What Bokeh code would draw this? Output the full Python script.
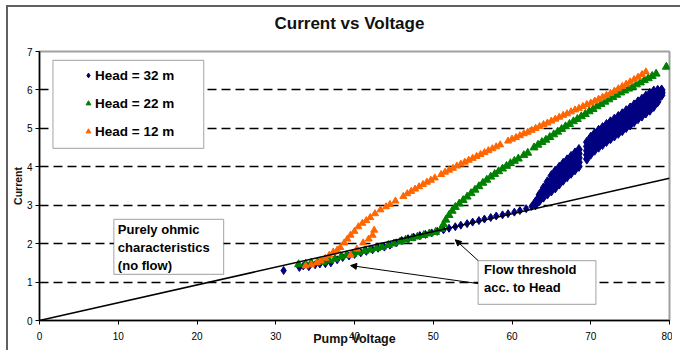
import math
from bokeh.plotting import figure
from bokeh.models import (Range1d, FixedTicker, BoxAnnotation, Arrow, Label,
                          NormalHead, Legend, LegendItem, GlobalInlineStyleSheet)
from bokeh.embed import file_html
from bokeh.resources import INLINE

# ---------------- data ----------------
x_ticks = [0, 10, 20, 30, 40, 50, 60, 70, 80]
y_ticks = [0, 1, 2, 3, 4, 5, 6, 7]

# ohmic characteristic line
ohm_x = [0, 80]
ohm_y = [0, 3.7]

# Head = 32 m : low (near-ohmic) part
blue_x = [31.0, 33.0, 33.5, 34.2, 35.0, 35.6, 36.3, 37.0, 37.8, 38.5, 39.3, 40.0,
          40.8, 41.5, 42.3, 43.0, 43.8, 44.5, 45.3, 46.0, 46.8, 47.5, 48.3, 49.0,
          49.8, 50.5, 51.3, 52.0, 52.8, 53.5, 54.3, 55.0, 55.8, 56.5, 57.3, 58.0,
          58.8, 59.5, 60.3, 61.0, 61.8, 62.5]
blue_y = [1.30, 1.38, 1.42, 1.40, 1.45, 1.47, 1.48, 1.50, 1.58, 1.64, 1.68, 1.72,
          1.76, 1.80, 1.84, 1.88, 1.91, 1.96, 2.02, 2.08, 2.13, 2.17, 2.21, 2.24,
          2.28, 2.32, 2.36, 2.40, 2.44, 2.48, 2.52, 2.56, 2.60, 2.64, 2.68, 2.72,
          2.75, 2.78, 2.82, 2.86, 2.91, 2.97]
# Head = 32 m : steep (flowing) part, a thick band read as five rows
band_x = [63.0, 63.5, 64.0, 64.5, 65.0, 65.5, 66.0, 66.5, 67.0, 67.5, 68.0, 68.5,
          69.5, 70.0, 70.5, 71.0, 71.5, 72.0, 72.5, 73.0, 73.5, 74.0, 74.5, 75.0,
          75.5, 76.0, 76.5, 77.0, 77.5, 78.0, 78.5, 79.0]
band_lo = [3.01, 3.12, 3.21, 3.29, 3.37, 3.45, 3.55, 3.65, 3.74, 3.83, 3.92, 4.01,
           4.20, 4.33, 4.43, 4.51, 4.58, 4.66, 4.73, 4.80, 4.87, 4.94, 5.02, 5.09,
           5.17, 5.25, 5.32, 5.40, 5.47, 5.57, 5.69, 5.86]
band_q1 = [3.03, 3.16, 3.27, 3.37, 3.47, 3.56, 3.66, 3.76, 3.85, 3.94, 4.03, 4.12,
           4.31, 4.44, 4.54, 4.62, 4.69, 4.77, 4.84, 4.91, 4.98, 5.05, 5.13, 5.20,
           5.28, 5.36, 5.43, 5.51, 5.58, 5.67, 5.77, 5.90]
band_mid = [3.05, 3.20, 3.33, 3.45, 3.57, 3.67, 3.77, 3.87, 3.96, 4.05, 4.14, 4.23,
            4.42, 4.55, 4.65, 4.73, 4.80, 4.88, 4.95, 5.02, 5.09, 5.16, 5.24, 5.31,
            5.39, 5.47, 5.54, 5.62, 5.69, 5.77, 5.84, 5.93]
band_q3 = [3.07, 3.24, 3.39, 3.53, 3.67, 3.78, 3.88, 3.98, 4.07, 4.16, 4.25, 4.34,
           4.53, 4.66, 4.76, 4.84, 4.91, 4.99, 5.06, 5.13, 5.20, 5.27, 5.35, 5.42,
           5.50, 5.58, 5.65, 5.73, 5.80, 5.87, 5.92, 5.97]
band_hi = [3.09, 3.28, 3.45, 3.61, 3.77, 3.89, 3.99, 4.09, 4.18, 4.27, 4.36, 4.45,
           4.64, 4.77, 4.87, 4.95, 5.02, 5.10, 5.17, 5.24, 5.31, 5.38, 5.46, 5.53,
           5.61, 5.69, 5.76, 5.84, 5.91, 5.97, 5.99, 6.00]

# Head = 22 m
green_x = [32.9, 33.8, 34.5, 35.3, 36.0, 36.8, 37.5, 38.3, 39.0, 39.8, 40.5, 41.3,
           42.0, 42.8, 43.5, 44.3, 45.0, 45.8, 46.5, 47.3, 48.0, 48.8, 49.5, 50.3,
           51.0, 51.3, 51.6, 52.0, 52.4, 52.8, 53.3, 53.8, 54.3, 54.8, 55.3, 55.8,
           56.3, 56.8, 57.3, 57.8, 58.3, 58.8, 59.3, 59.8, 60.3, 60.8, 61.5, 62.0,
           62.8, 63.3, 63.8, 64.3, 64.8, 65.3, 65.8, 66.3, 66.8, 67.3, 67.8, 68.3,
           68.8, 69.3, 69.8, 70.3, 70.8, 71.3, 71.8, 72.3, 72.8, 73.3, 73.8, 74.3,
           74.8, 75.3, 75.8, 76.3, 76.8, 77.3, 77.8, 78.3, 79.6]
green_y = [1.46, 1.47, 1.50, 1.52, 1.52, 1.56, 1.60, 1.66, 1.70, 1.73, 1.77, 1.81,
           1.84, 1.88, 1.91, 1.96, 2.00, 2.05, 2.10, 2.14, 2.18, 2.22, 2.26, 2.30,
           2.38, 2.50, 2.62, 2.74, 2.85, 2.95, 3.04, 3.13, 3.22, 3.31, 3.40, 3.49,
           3.58, 3.66, 3.74, 3.81, 3.88, 3.95, 4.02, 4.09, 4.15, 4.21, 4.30, 4.36,
           4.50, 4.57, 4.64, 4.70, 4.77, 4.84, 4.91, 4.98, 5.05, 5.11, 5.18, 5.24,
           5.31, 5.37, 5.44, 5.50, 5.57, 5.63, 5.69, 5.75, 5.81, 5.87, 5.93, 5.98,
           6.03, 6.08, 6.14, 6.19, 6.25, 6.30, 6.36, 6.42, 6.60]

# Head = 12 m
orange_x = [33.8, 34.5, 35.2, 35.7, 36.3, 36.8, 37.3, 37.8, 38.2, 38.7, 39.1, 39.5,
            40.0, 40.5, 41.0, 41.5, 42.0, 42.6, 43.3, 44.0, 44.5, 45.2, 46.2, 46.7,
            47.2, 47.7, 48.2, 48.7, 49.2, 49.7, 50.2, 51.0, 51.5, 52.0, 52.5, 53.0,
            53.5, 54.0, 54.5, 55.0, 55.5, 56.0, 56.5, 57.0, 57.5, 58.0, 58.5, 59.5,
            60.0, 60.5, 61.0, 61.5, 62.0, 62.5, 63.0, 63.5, 64.0, 64.5, 65.0, 65.5,
            66.0, 66.5, 67.0, 67.5, 68.0, 68.5, 69.0, 69.5, 70.0, 70.5, 71.0, 71.5,
            72.0, 72.5, 73.0, 73.5, 74.0, 74.5, 75.0, 75.5, 76.0, 76.5, 77.0,
            39.5, 40.3, 41.1, 41.8, 42.3, 42.5]
orange_y = [1.42, 1.45, 1.50, 1.55, 1.62, 1.70, 1.78, 1.83, 1.90, 2.02, 2.12, 2.22,
            2.32, 2.44, 2.53, 2.60, 2.68, 2.78, 2.88, 2.96, 3.02, 3.11, 3.23, 3.30,
            3.36, 3.42, 3.48, 3.54, 3.60, 3.65, 3.71, 3.80, 3.86, 3.91, 3.96, 4.02,
            4.07, 4.12, 4.17, 4.22, 4.27, 4.32, 4.37, 4.42, 4.47, 4.52, 4.57, 4.67,
            4.72, 4.76, 4.81, 4.86, 4.90, 4.95, 5.00, 5.05, 5.10, 5.14, 5.19, 5.24,
            5.29, 5.34, 5.38, 5.43, 5.48, 5.52, 5.57, 5.62, 5.66, 5.71, 5.76, 5.81,
            5.86, 5.91, 5.97, 6.03, 6.09, 6.15, 6.21, 6.27, 6.33, 6.40, 6.47,
            1.70, 1.86, 2.02, 2.12, 2.22, 2.35]

series_labels = ["Head = 32 m", "Head = 22 m", "Head = 12 m"]
ohmic_text = ["Purely ohmic", "characteristics", "(no flow)"]
threshold_text = ["Flow threshold", "acc. to Head"]

# ---------------- styling ----------------
FONT = "Liberation Sans"
BLUE = "#000080"
GREEN = "#008000"
ORANGE = "#FF6600"

p = figure(frame_width=630, frame_height=269,
           x_range=Range1d(0, 80), y_range=Range1d(0, 7),
           output_backend="svg", toolbar_location=None,
           min_border_left=33, min_border_top=58,
           min_border_right=3, min_border_bottom=22,
           background_fill_color="white", border_fill_color="white",
           title="Current vs Voltage")
p.styles = {"margin-top": "-8px", "margin-left": "6px"}
# outer chart-area border (top and left edges visible in the picture)
p.stylesheets = [GlobalInlineStyleSheet(css=(
    "body{overflow:hidden;}"
    "body::after{content:'';position:fixed;left:6px;top:5px;width:100vw;"
    "height:100vh;border-top:2px solid #606060;border-left:2px solid #606060;"
    "pointer-events:none;z-index:1000;}"))]

p.title.text_font = FONT
p.title.text_font_size = "17px"
p.title.text_font_style = "bold"
p.title.text_color = "#111111"
p.title.align = "left"
p.title.offset = 235
p.title.vertical_align = "bottom"
p.title.standoff = 38

p.xaxis.ticker = FixedTicker(ticks=x_ticks)
p.yaxis.ticker = FixedTicker(ticks=y_ticks)
for ax in (p.xaxis, p.yaxis):
    ax.axis_line_color = "black"
    ax.axis_line_width = 1.5
    ax.major_tick_line_color = "black"
    ax.major_tick_out = 4
    ax.major_tick_in = 0
    ax.minor_tick_line_color = None
    ax.major_label_text_font = FONT
    ax.major_label_text_font_size = "10px"
    ax.major_label_text_color = "black"
    ax.axis_label_text_font = FONT
    ax.axis_label_text_font_style = "bold"
    ax.axis_label_text_color = "#111111"
p.xaxis.major_label_standoff = 7
p.yaxis.major_label_standoff = 3
p.yaxis.axis_label = "Current"
p.yaxis.axis_label_text_font_size = "10.5px"
p.yaxis.axis_label_standoff = 0
p.xaxis.axis_label = "Pump Voltage"
p.xaxis.axis_label_text_font_size = "12.5px"
p.xaxis.axis_label_standoff = -11

p.xgrid.visible = False
p.ygrid.ticker = FixedTicker(ticks=y_ticks[1:-1])
p.ygrid.grid_line_color = "black"
p.ygrid.grid_line_dash = "9 5"
p.ygrid.grid_line_width = 1.3

p.outline_line_color = "#a0a0a0"
p.outline_line_width = 2

# scatter series
r_blue = p.scatter(blue_x, blue_y, marker="diamond", size=8,
                   color=BLUE, line_color=BLUE)
for yy in (band_lo, band_q1, band_mid, band_q3, band_hi):
    p.scatter(band_x, yy, marker="diamond", size=10, color=BLUE, line_color=BLUE)
r_green = p.scatter(green_x, green_y, marker="triangle", size=8,
                    color=GREEN, line_color=GREEN)
r_orange = p.scatter(orange_x, orange_y, marker="triangle", size=7,
                     color=ORANGE, line_color=ORANGE)

# ohmic line
p.line(ohm_x, ohm_y, line_color="black", line_width=1.5)

# legend frame
p.add_layout(BoxAnnotation(left=1.71, right=20.85, top=6.77, bottom=4.48,
                           fill_color="white", fill_alpha=1,
                           line_color="black", line_width=1.2))
legend = Legend(items=[LegendItem(label=series_labels[0], renderers=[r_blue]),
                       LegendItem(label=series_labels[1], renderers=[r_green]),
                       LegendItem(label=series_labels[2], renderers=[r_orange])],
                location=(43, 179), padding=0, spacing=8,
                glyph_width=12, glyph_height=14, label_height=20,
                label_standoff=1, border_line_color=None,
                background_fill_alpha=0,
                label_text_font=FONT, label_text_font_size="13.5px",
                label_text_font_style="bold", label_text_color="black")
p.add_layout(legend)

# annotation boxes
p.add_layout(BoxAnnotation(left=9.44, right=23.38, top=2.63, bottom=1.20,
                           fill_color="white", fill_alpha=1,
                           line_color="black", line_width=1.2))
for txt, yy in zip(ohmic_text, [2.37, 1.90, 1.43]):
    p.add_layout(Label(x=9.95, y=yy, text=txt, text_font=FONT,
                       text_font_size="13px", text_font_style="bold",
                       text_baseline="middle", text_align="left",
                       text_color="black"))

p.add_layout(BoxAnnotation(left=55.7, right=70.65, top=1.56, bottom=0.42,
                           fill_color="white", fill_alpha=1,
                           line_color="black", line_width=1.2))
for txt, yy in zip(threshold_text, [1.33, 0.86]):
    p.add_layout(Label(x=56.46, y=yy, text=txt, text_font=FONT,
                       text_font_size="13px", text_font_style="bold",
                       text_baseline="middle", text_align="left",
                       text_color="black"))

p.add_layout(Arrow(end=NormalHead(size=6, fill_color="black", line_color="black"),
                   x_start=55.7, y_start=0.96, x_end=39.5, y_end=1.43,
                   line_color="black", line_width=1))
p.add_layout(Arrow(end=NormalHead(size=6, fill_color="black", line_color="black"),
                   x_start=55.7, y_start=1.56, x_end=52.8, y_end=2.10,
                   line_color="black", line_width=1))

open("out.html", "w").write(file_html(p, INLINE))
